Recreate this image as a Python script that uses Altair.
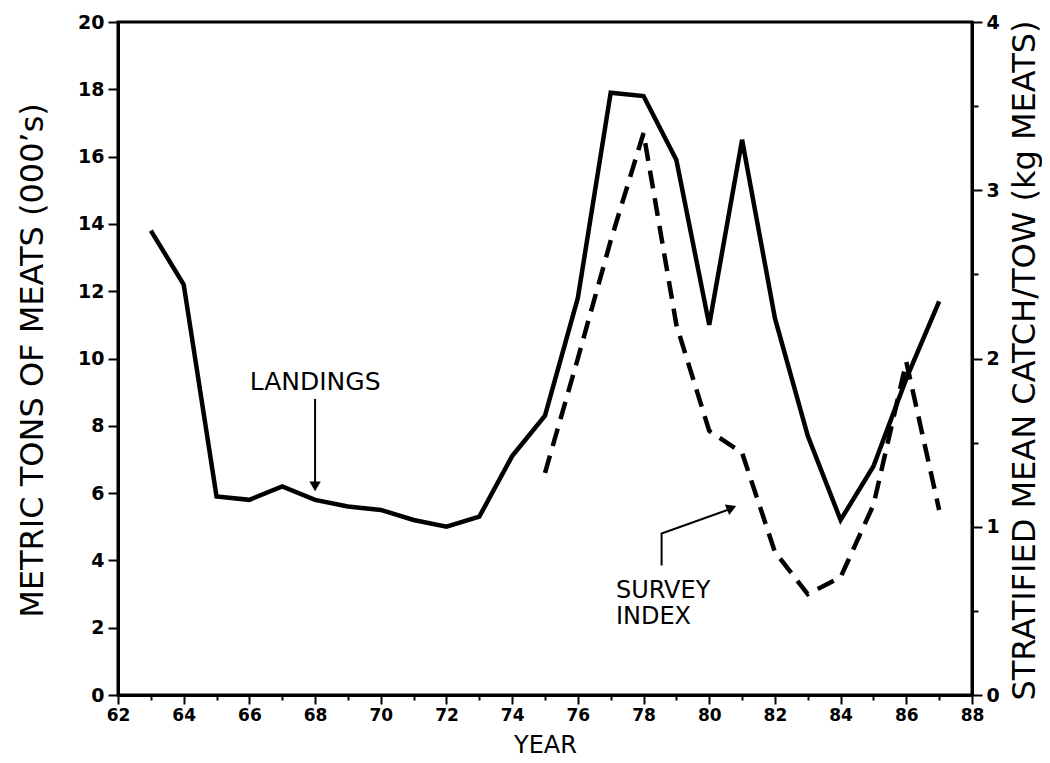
import altair as alt
import pandas as pd

# Landings (metric tons of meats, 000's) by year
land_years = [63, 64, 65, 66, 67, 68, 69, 70, 71, 72, 73, 74, 75, 76, 77, 78, 79, 80, 81, 82, 83, 84, 85, 86, 87]
land_values = [13.8, 12.2, 5.9, 5.8, 6.2, 5.8, 5.6, 5.5, 5.2, 5.0, 5.3, 7.1, 8.3, 11.8, 17.9, 17.8, 15.9, 11.0, 16.5, 11.2, 7.7, 5.2, 6.8, 9.4, 11.7]

# Survey index (stratified mean catch/tow, kg meats)
surv_years = [75, 76, 77, 78, 79, 80, 81, 82, 83, 84, 85, 86, 87]
surv_values = [1.32, 2.0, 2.7, 3.34, 2.2, 1.57, 1.44, 0.85, 0.6, 0.7, 1.13, 1.98, 1.1]

# Annotation labels (positions in data units, left axis)
label_text = ["LANDINGS"]
label_x = [68.0]
label_y = [9.3]
survey_label_lines = ["SURVEY", "INDEX"]
survey_label_x = [77.16, 77.16]
survey_label_y = [3.1, 2.32]

# Arrows (data units on left axis)
arrow1_x = [68.0, 68.0]
arrow1_y = [8.8, 6.3]
arrow1_head = [(68.0, 6.2)]
arrow2_x = [78.55, 78.55, 80.7]
arrow2_y = [3.85, 4.8, 5.55]
arrow2_head = [(80.68, 5.56)]

FONT_T = "DejaVu Sans"
FONT_L = "DejaVu Sans"

land = pd.DataFrame({"year": land_years, "v": land_values})
surv = pd.DataFrame({"year": surv_years, "v": surv_values})

xscale = alt.Scale(domain=[62, 88], nice=False, zero=False)
yl = alt.Scale(domain=[0, 20], nice=False)
yr = alt.Scale(domain=[0, 4], nice=False)

xaxis = alt.Axis(
    title="YEAR", values=list(range(62, 89)),
    labelExpr="datum.value % 2 == 0 ? datum.label : ''",
    tickSize={"condition": {"test": "datum.value % 2 != 0", "value": 5}, "value": 9},
    labelFlush=False,
    grid=False, domainColor="black", domainWidth=3, tickColor="black", tickWidth=2,
    labelFont=FONT_L, labelFontWeight="bold", labelFontSize=17, labelColor="black", labelPadding=3,
    titleFont=FONT_T, titleFontSize=24, titleFontWeight="normal", titleColor="black",
    titleY=50, titleBaseline="middle",
)

def X(field):
    return alt.X(field, scale=xscale, axis=xaxis)

land_line = alt.Chart(land).mark_line(color="black", strokeWidth=4.5).encode(
    x=X("year:Q"),
    y=alt.Y("v:Q", scale=yl, axis=alt.Axis(
        title="METRIC TONS OF MEATS (000’s)", orient="left",
        values=list(range(0, 21, 2)), grid=False, labelFlush=False,
        domainColor="black", domainWidth=3, tickColor="black", tickWidth=2, tickSize=10,
        labelFont=FONT_L, labelFontWeight="bold", labelFontSize=19, labelColor="black", labelPadding=4,
        titleFont=FONT_T, titleFontSize=32, titleFontWeight="normal", titleColor="black",
        titleX=-86, titleY=338, titleBaseline="middle", titleAngle=270,
    )),
)

surv_line = alt.Chart(surv).mark_line(color="black", strokeWidth=4.5, strokeDash=[18, 10]).encode(
    x=X("year:Q"),
    y=alt.Y("v:Q", scale=yr, axis=alt.Axis(
        title="STRATIFIED MEAN CATCH/TOW (kg MEATS)", orient="right",
        values=[0, 0.5, 1, 1.5, 2, 2.5, 3, 3.5, 4], labelFlush=False,
        labelExpr="datum.value % 1 == 0 ? format(datum.value, 'd') : ''",
        tickSize={"condition": {"test": "datum.value % 1 != 0", "value": 6}, "value": 10},
        grid=False, domainColor="black", domainWidth=3, tickColor="black", tickWidth=2,
        labelFont=FONT_L, labelFontWeight="bold", labelFontSize=19, labelColor="black", labelPadding=4,
        titleFont=FONT_T, titleFontSize=32, titleFontWeight="normal", titleColor="black",
        titleX=52, titleY=338, titleBaseline="middle", titleAngle=270,
    )),
)

a1 = pd.DataFrame({"x": arrow1_x, "y": arrow1_y, "o": list(range(len(arrow1_x)))})
a2 = pd.DataFrame({"x": arrow2_x, "y": arrow2_y, "o": list(range(len(arrow2_x)))})
arrow1 = alt.Chart(a1).mark_line(color="black", strokeWidth=2).encode(
    x=X("x:Q"), y=alt.Y("y:Q", scale=yl, axis=None), order="o:Q")
arrow2 = alt.Chart(a2).mark_line(color="black", strokeWidth=2).encode(
    x=X("x:Q"), y=alt.Y("y:Q", scale=yl, axis=None), order="o:Q")

h1 = pd.DataFrame({"x": [p[0] for p in arrow1_head], "y": [p[1] for p in arrow1_head]})
h2 = pd.DataFrame({"x": [p[0] for p in arrow2_head], "y": [p[1] for p in arrow2_head]})
head1 = alt.Chart(h1).mark_point(shape="triangle-down", filled=True, color="black", size=130, opacity=1).encode(
    x=X("x:Q"), y=alt.Y("y:Q", scale=yl, axis=None))
head2 = alt.Chart(h2).mark_point(shape="triangle-right", filled=True, color="black", size=130, opacity=1, angle=337).encode(
    x=X("x:Q"), y=alt.Y("y:Q", scale=yl, axis=None))

t1 = pd.DataFrame({"x": label_x, "y": label_y, "t": label_text})
text1 = alt.Chart(t1).mark_text(font=FONT_T, fontSize=25, color="black", align="center", baseline="middle").encode(
    x=X("x:Q"), y=alt.Y("y:Q", scale=yl, axis=None), text="t:N")
t2 = pd.DataFrame({"x": survey_label_x, "y": survey_label_y, "t": survey_label_lines})
text2 = alt.Chart(t2).mark_text(font=FONT_T, fontSize=24, color="black", align="left", baseline="middle").encode(
    x=X("x:Q"), y=alt.Y("y:Q", scale=yl, axis=None), text="t:N")

chart = alt.layer(land_line, surv_line, arrow1, head1, arrow2, head2, text1, text2).resolve_scale(
    y="independent"
).properties(
    width=854, height=673,
    autosize=alt.AutoSizeParams(type="none"),
    padding={"left": 110, "top": 14, "right": 70, "bottom": 62},
    background="white",
).configure_view(stroke="black", strokeWidth=3)

chart.save("out.html", embed_options={"renderer": "svg", "actions": False})
